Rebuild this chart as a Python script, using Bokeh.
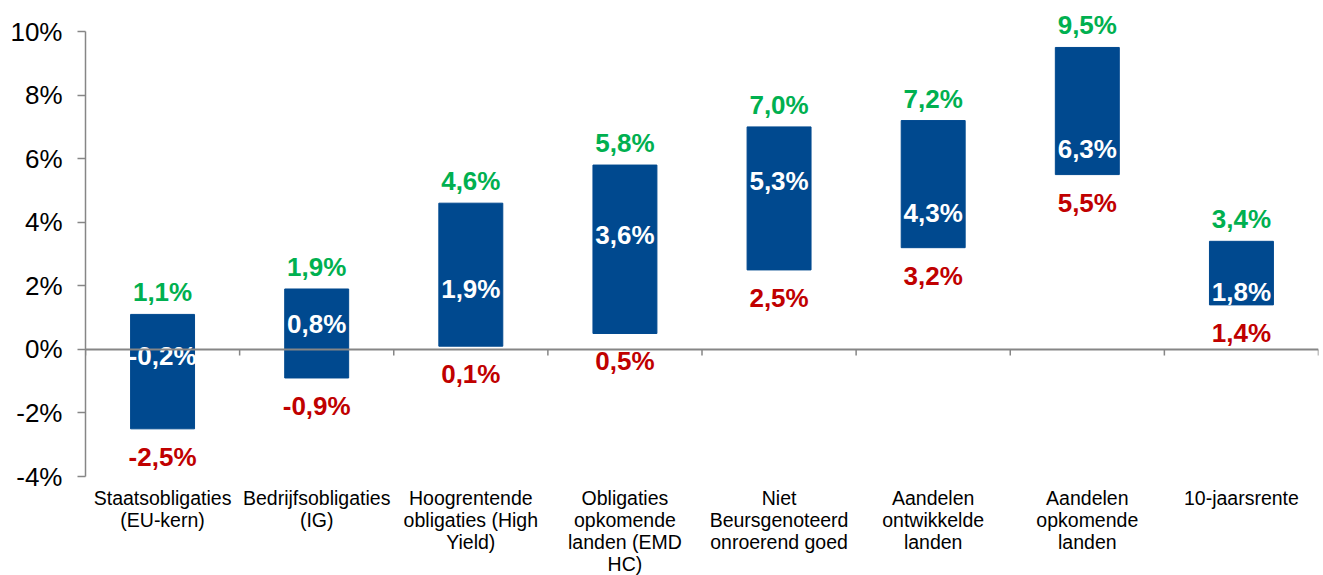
from bokeh.plotting import figure
from bokeh.models import FixedTicker, Span, ColumnDataSource, Range1d
from bokeh.embed import file_html
from bokeh.resources import INLINE
from bokeh.core.properties import value

categories = [
    "Staatsobligaties\n(EU-kern)",
    "Bedrijfsobligaties\n(IG)",
    "Hoogrentende\nobligaties (High\nYield)",
    "Obligaties\nopkomende\nlanden (EMD\nHC)",
    "Niet\nBeursgenoteerd\nonroerend goed",
    "Aandelen\nontwikkelde\nlanden",
    "Aandelen\nopkomende\nlanden",
    "10-jaarsrente",
]
low_vals = [-2.5, -0.9, 0.1, 0.5, 2.5, 3.2, 5.5, 1.4]
high_vals = [1.1, 1.9, 4.6, 5.8, 7.0, 7.2, 9.5, 3.4]
mid_vals = [-0.2, 0.8, 1.9, 3.6, 5.3, 4.3, 6.3, 1.8]
y_ticks = [-4, -2, 0, 2, 4, 6, 8, 10]
y_tick_labels = ["-4%", "-2%", "0%", "2%", "4%", "6%", "8%", "10%"]


def fmt(v):
    return ("%.1f%%" % v).replace(".", ",")


n = len(categories)
centers = [i + 0.5 for i in range(n)]
bounds = list(range(n + 1))
y_min, y_max = y_ticks[0], y_ticks[-1]
headroom = 0.6  # space above the top tick for the top value label

src = ColumnDataSource(dict(
    x=centers, low=low_vals, high=high_vals, mid=mid_vals,
    low_t=[fmt(v) for v in low_vals],
    high_t=[fmt(v) for v in high_vals],
    mid_t=[fmt(v) for v in mid_vals],
))

p = figure(frame_width=1233, frame_height=464, output_backend="svg", toolbar_location=None,
           x_range=Range1d(0, n), y_range=Range1d(y_min, y_max + headroom),
           min_border_left=85, min_border_right=5, min_border_top=12, min_border_bottom=10)
p.outline_line_color = None
p.grid.visible = False
p.background_fill_color = "white"

FONT = "Liberation Sans"
AX = "#868686"

# y axis
p.yaxis.ticker = FixedTicker(ticks=y_ticks)
p.yaxis.bounds = (y_min, y_max)
p.yaxis.major_label_overrides = {t: l for t, l in zip(y_ticks, y_tick_labels)}
p.yaxis.major_label_text_font = FONT
p.yaxis.major_label_text_font_size = "26px"
p.yaxis.major_label_text_color = "black"
p.yaxis.axis_line_color = AX
p.yaxis.axis_line_width = 1.5
p.yaxis.major_tick_line_color = AX
p.yaxis.major_tick_line_width = 1.5
p.yaxis.major_tick_in = 0
p.yaxis.major_tick_out = 8
p.yaxis.minor_tick_line_color = None
p.yaxis.major_label_standoff = 15

# x axis (category labels only)
p.xaxis.ticker = FixedTicker(ticks=centers)
p.xaxis.major_label_overrides = {c: l for c, l in zip(centers, categories)}
p.xaxis.major_label_text_font = FONT
p.xaxis.major_label_text_font_size = "19.5px"
p.xaxis.major_label_text_color = "black"
p.xaxis.major_label_text_line_height = 1.0
p.xaxis.axis_line_color = None
p.xaxis.major_tick_line_color = None
p.xaxis.major_tick_in = 0
p.xaxis.major_tick_out = 0
p.xaxis.minor_tick_line_color = None
p.xaxis.major_label_standoff = 10

# zero line with category boundary ticks
p.add_layout(Span(location=0, dimension="width", line_color=AX, line_width=2))
p.segment(x0=bounds, y0=[0] * len(bounds), x1=bounds, y1=[-0.19] * len(bounds),
          line_color=AX, line_width=1.5)

# floating bars
p.vbar(x="x", bottom="low", top="high", width=0.415, source=src,
       fill_color="#00498F", line_color="#00498F")

# labels
p.text(x="x", y="high", text="high_t", source=src, text_align="center",
       text_baseline="middle", y_offset=-22, text_font=value(FONT),
       text_font_size="26px", text_font_style="bold", text_color="#00B050")
p.text(x="x", y="low", text="low_t", source=src, text_align="center",
       text_baseline="middle", y_offset=28, text_font=value(FONT),
       text_font_size="26px", text_font_style="bold", text_color="#C00000")
p.text(x="x", y="mid", text="mid_t", source=src, text_align="center",
       text_baseline="middle", text_font=value(FONT),
       text_font_size="26px", text_font_style="bold", text_color="white")

open("out.html", "w").write(file_html(p, INLINE))
